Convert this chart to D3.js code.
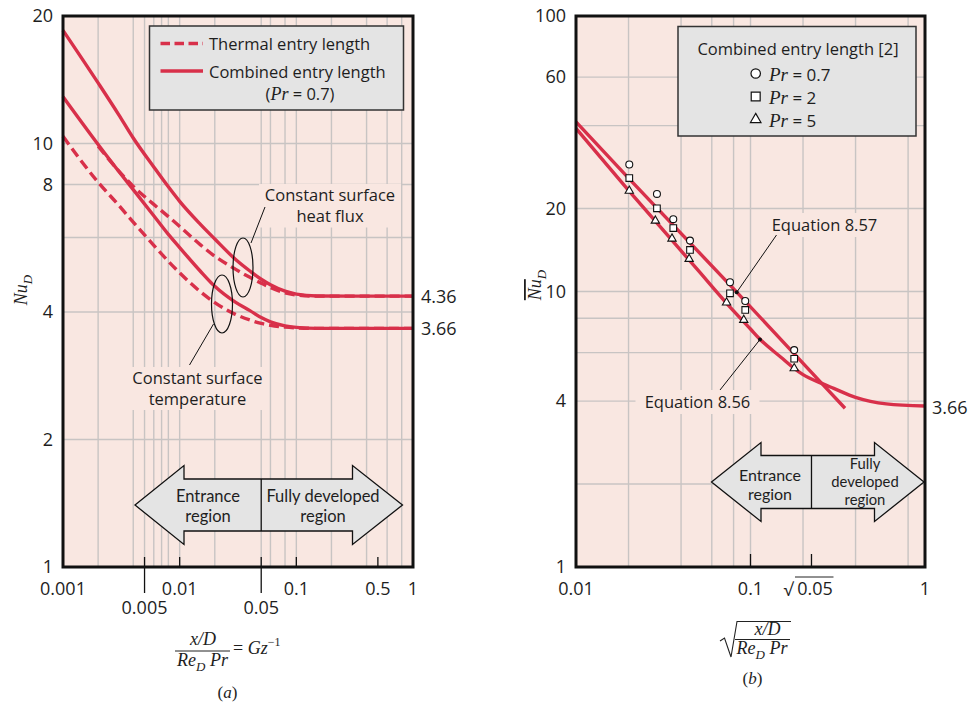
<!DOCTYPE html>
<html><head><meta charset="utf-8">
<script src="https://cdn.jsdelivr.net/npm/d3@7"></script>
<style>
body{margin:0;background:#fff;}
svg text{font-family:"Open Sans",Lato,sans-serif;fill:#1e1e1e;}
.it{font-family:"Liberation Serif","DejaVu Serif",serif;font-style:italic;}
.arr{font-family:Lato,"Open Sans",sans-serif !important;}
</style></head><body>
<svg id="c" width="980" height="702"></svg>
<script>
// ---------- DATA: panel (a) ----------
const gzInv = [0.001,0.002,0.003,0.004,0.006,0.008,0.01,0.015,0.02,0.03,0.04,0.05,0.06,0.08,0.1,0.15,0.3,1];
const nuCombinedFlux = [18.5,13.9,11.7,10.3,8.8,7.9,7.3,6.45,5.95,5.33,5.0,4.78,4.64,4.48,4.41,4.365,4.36,4.36];
const nuThermalFlux  = [null,9.85,8.62,7.92,7.18,6.72,6.37,5.77,5.42,5.05,4.83,4.68,4.57,4.44,4.39,4.36,4.36,4.36];
const nuCombinedTemp = [12.9,9.95,8.6,7.78,6.75,6.1,5.68,5.0,4.6,4.22,4.03,3.88,3.79,3.71,3.68,3.66,3.66,3.66];
const nuThermalTemp  = [10.4,8.1,7.15,6.52,5.75,5.27,4.95,4.47,4.21,3.95,3.83,3.76,3.72,3.685,3.67,3.66,3.66,3.66];
const leftGridX = [0.002,0.004,0.005,0.006,0.007,0.008,0.01,0.02,0.05,0.06,0.08,0.1,0.2,0.4,0.6,0.8];
const leftGridY = [2,4,6,8,10];
const leftTickY = [1,2,4,8,10,20];
const leftTickXTop = [0.001,0.01,0.1,0.5,1];
const leftTickXBottom = [0.005,0.05];
const leftInnerTicks = [0.005,0.01,0.05,0.1,0.5];
const leftAsymptotes = [4.36,3.66];

// ---------- DATA: panel (b) ----------
const sEq857 = [0.01,0.02,0.0834,0.256,0.348];
const nuEq857 = [41.3,25.8,9.95,4.64,3.77];
const sEq856 = [0.01,0.02,0.05,0.073,0.1,0.1133,0.15,0.178,0.2,0.256,0.3,0.4,0.6,1];
const nuEq856 = [39.1,23.3,11.95,9.06,7.31,6.71,5.76,5.26,4.99,4.64,4.45,4.13,3.91,3.84];
const sPr07 = [0.0202,0.0291,0.0361,0.045,0.0763,0.0933,0.178];
const nuPr07 = [28.9,22.6,18.3,15.3,10.8,9.24,6.13];
const sPr2 = [0.0202,0.0291,0.0361,0.045,0.0763,0.0933,0.178];
const nuPr2 = [25.8,20.05,17.0,14.15,9.85,8.57,5.70];
const sPr5 = [0.0202,0.0285,0.0355,0.0445,0.0729,0.0915,0.178];
const nuPr5 = [23.2,18.07,15.55,13.12,9.11,7.88,5.26];
const rightGridX = [0.02,0.04,0.06,0.08,0.1,0.2,0.4,0.8];
const rightGridY = [2,4,6,8,10,20,40,60];
const rightTickY = [1,4,10,20,60,100];
const rightTickX = [0.01,0.1,1];
const sqrtTick = Math.sqrt(0.05);
const rightLegend = [["circle","0.7"],["square","2"],["triangle","5"]];

// ---------- STYLE ----------
const RED = "#d8304a", BG = "#f9e7e1", GRID = "#c8c4c3", BOX = "#e4e4e4";
const svg = d3.select("#c");

const xL = d3.scaleLog().domain([0.001,1]).range([63,413]);
const yL = d3.scaleLog().domain([1,20]).range([567,16]);
const xR = d3.scaleLog().domain([0.01,1]).range([576,925]);
const yR = d3.scaleLog().domain([1,100]).range([567,16]);

function panel(g, x, y, gx, gy){
  const [x0,x1] = x.range(), [y1,y0] = y.range();
  g.append("rect").attr("x",x0).attr("y",y0).attr("width",x1-x0).attr("height",y1-y0).attr("fill",BG);
  g.selectAll(null).data(gx).join("line").attr("x1",d=>x(d)).attr("x2",d=>x(d))
    .attr("y1",y0).attr("y2",y1).attr("stroke",GRID).attr("stroke-width",1.4);
  g.selectAll(null).data(gy).join("line").attr("y1",d=>y(d)).attr("y2",d=>y(d))
    .attr("x1",x0).attr("x2",x1).attr("stroke",GRID).attr("stroke-width",1.4);
}
function frame(g, x, y){
  const [x0,x1] = x.range(), [y1,y0] = y.range();
  g.append("rect").attr("x",x0).attr("y",y0).attr("width",x1-x0).attr("height",y1-y0)
    .attr("fill","none").attr("stroke","#111").attr("stroke-width",3);
}
function multiText(g, lines, cx, y0, dy, size, cls){
  const t = g.append("text").attr("text-anchor","middle").style("font-size",size+"px");
  if (cls) t.attr("class",cls);
  lines.forEach((s,i)=>t.append("tspan").attr("x",cx).attr("y",y0+i*dy).attr("dy","0.35em").text(s));
  return t;
}
function bgLabel(g, lines, cx, ys, w, h, size){
  const top = ys[0]-h/2-2, bottom = ys[ys.length-1]+h/2+2;
  g.append("rect").attr("x",cx-w/2).attr("y",top).attr("width",w).attr("height",bottom-top).attr("fill",BG);
  multiText(g, lines, cx, ys[0], ys.length>1 ? ys[1]-ys[0] : 0, size);
}
function dblArrow(g, xl, xlb, xm, xrb, xr, yc, hs, hh){
  const pts = [[xl,yc],[xlb,yc-hh],[xlb,yc-hs],[xrb,yc-hs],[xrb,yc-hh],[xr,yc],[xrb,yc+hh],[xrb,yc+hs],[xlb,yc+hs],[xlb,yc+hh]];
  g.append("path").attr("d","M"+pts.map(p=>p.join(",")).join("L")+"Z")
    .attr("fill",BOX).attr("stroke","#111").attr("stroke-width",1.3);
  g.append("line").attr("x1",xm).attr("x2",xm).attr("y1",yc-hs).attr("y2",yc+hs).attr("stroke","#111").attr("stroke-width",1.3);
}

// ================= PANEL (a) =================
const gA = svg.append("g");
panel(gA, xL, yL, leftGridX, leftGridY);

bgLabel(gA, ["Constant surface","heat flux"], 330, [195,216.5], 142, 18, 16.5);
bgLabel(gA, ["Constant surface","temperature"], 197.5, [378,399], 140, 18, 16.5);

gA.append("rect").attr("x",149.5).attr("y",26).attr("width",254).attr("height",84)
  .attr("fill",BOX).attr("stroke","#333").attr("stroke-width",1.5);

const lineA = d3.line().defined(d=>d[1]!=null).x(d=>xL(d[0])).y(d=>yL(d[1])).curve(d3.curveMonotoneX);
const curvesA = [
  {v:nuCombinedFlux, dash:null},
  {v:nuCombinedTemp, dash:null},
  {v:nuThermalFlux, dash:"10,5"},
  {v:nuThermalTemp, dash:"10,5"}
];
curvesA.forEach(c=>{
  gA.append("path").datum(gzInv.map((g,i)=>[g,c.v[i]])).attr("d",lineA)
    .attr("fill","none").attr("stroke",RED).attr("stroke-width",3.4)
    .attr("stroke-dasharray",c.dash);
});

gA.append("ellipse").attr("cx",243).attr("cy",267.5).attr("rx",10).attr("ry",29.5).attr("fill","none").attr("stroke","#111").attr("stroke-width",1.2);
gA.append("line").attr("x1",251).attr("y1",243).attr("x2",265).attr("y2",207).attr("stroke","#111").attr("stroke-width",1);
gA.append("ellipse").attr("cx",222).attr("cy",304).attr("rx",10.5).attr("ry",29).attr("fill","none").attr("stroke","#111").attr("stroke-width",1.2);
gA.append("line").attr("x1",213.5).attr("y1",324).attr("x2",189.5).attr("y2",365).attr("stroke","#111").attr("stroke-width",1);

gA.append("line").attr("x1",160.5).attr("x2",203).attr("y1",43.5).attr("y2",43.5).attr("stroke",RED).attr("stroke-width",3.4).attr("stroke-dasharray","9.5,4.5");
gA.append("line").attr("x1",160.5).attr("x2",203).attr("y1",71).attr("y2",71).attr("stroke",RED).attr("stroke-width",3.4);
gA.append("text").attr("x",209).attr("y",49.5).style("font-size","16.5px").text("Thermal entry length");
gA.append("text").attr("x",209).attr("y",77.5).style("font-size","16.5px").text("Combined entry length");
{
  const t = gA.append("text").attr("x",300).attr("y",100).attr("text-anchor","middle").style("font-size","16.5px");
  t.append("tspan").text("(");
  t.append("tspan").attr("class","it").style("font-size","18px").text("Pr");
  t.append("tspan").text(" = 0.7)");
}

const gArrA = gA.append("g");
dblArrow(gArrA, 135, 184, xL(0.05), 352.5, 402.5, 505, 26, 39.5);
multiText(gArrA, ["Entrance","region"], 208, 496, 20, 16.5, "arr");
multiText(gArrA, ["Fully developed","region"], 323, 496, 20, 16.5, "arr");

frame(gA, xL, yL);

gA.selectAll(null).data(leftInnerTicks).join("line").attr("x1",d=>xL(d)).attr("x2",d=>xL(d))
  .attr("y1",557).attr("y2",567).attr("stroke","#111").attr("stroke-width",1.3);
gA.selectAll(null).data(leftTickXBottom).join("line").attr("x1",d=>xL(d)).attr("x2",d=>xL(d))
  .attr("y1",568).attr("y2",593).attr("stroke","#111").attr("stroke-width",1.3);

const axL = gA.append("g").attr("transform","translate(63,0)")
  .call(d3.axisLeft(yL).tickValues(leftTickY).tickSize(0).tickPadding(10).tickFormat(d3.format("d")));
axL.select(".domain").remove();
axL.selectAll("text").style("font-size","18px").attr("font-family",null).style("fill","#1e1e1e");

const fmt = d=>String(d);
gA.selectAll(null).data(leftTickXTop).join("text").attr("x",d=>xL(d)).attr("y",588)
  .attr("text-anchor","middle").attr("dominant-baseline","central").style("font-size","18px").text(fmt);
gA.selectAll(null).data(leftTickXBottom).join("text").attr("x",d=>xL(d)).attr("y",607)
  .attr("text-anchor","middle").attr("dominant-baseline","central").style("font-size","18px").text(fmt);

gA.selectAll(null).data(leftAsymptotes).join("text").attr("x",421).attr("y",d=>yL(d))
  .attr("dominant-baseline","central").style("font-size","18px").text(d=>d.toFixed(2));

{
  const t = gA.append("text").attr("transform","translate(27,290) rotate(-90)").attr("text-anchor","middle").attr("class","it").style("font-size","18px");
  t.append("tspan").text("Nu");
  t.append("tspan").attr("dy",5).style("font-size","13px").text("D");
}
{
  gA.append("text").attr("x",203).attr("y",645).attr("text-anchor","middle").attr("class","it").style("font-size","18px").text("x/D");
  gA.append("line").attr("x1",175).attr("x2",230).attr("y1",651).attr("y2",651).attr("stroke","#222").attr("stroke-width",1);
  const d = gA.append("text").attr("x",202.5).attr("y",666).attr("text-anchor","middle").attr("class","it").style("font-size","18px");
  d.append("tspan").text("Re");
  d.append("tspan").attr("dy",5).style("font-size","13px").text("D");
  d.append("tspan").attr("dy",-5).text(" Pr");
  const e = gA.append("text").attr("x",233).attr("y",654).style("font-size","18px");
  e.append("tspan").style("font-family","Liberation Serif").text("= ");
  e.append("tspan").attr("class","it").text("Gz");
  e.append("tspan").attr("dy",-8).style("font-size","12px").style("font-family","Liberation Serif").text("\u22121");
  const a = gA.append("text").attr("x",227.5).attr("y",698).attr("text-anchor","middle").style("font-size","17px").style("font-family","Liberation Serif");
  a.append("tspan").text("(");
  a.append("tspan").attr("class","it").text("a");
  a.append("tspan").text(")");
}

// ================= PANEL (b) =================
const gB = svg.append("g");
panel(gB, xR, yR, rightGridX, rightGridY);

bgLabel(gB, ["Equation 8.57"], 824.5, [225], 122, 20, 16.5);
bgLabel(gB, ["Equation 8.56"], 697.5, [402], 124, 20, 16.5);

gB.append("rect").attr("x",678).attr("y",26.5).attr("width",238).attr("height",109.5)
  .attr("fill",BOX).attr("stroke","#333").attr("stroke-width",1.5);
gB.append("text").attr("x",798).attr("y",48).attr("text-anchor","middle").attr("dominant-baseline","central").style("font-size","16.5px").text("Combined entry length [2]");

const sym = {circle:d3.symbolCircle, square:d3.symbolSquare, triangle:d3.symbolTriangle};
const symSize = {circle:38, square:44, triangle:30};
const legSize = {circle:70, square:80, triangle:48};
rightLegend.forEach(([s,v],i)=>{
  const yy = 73.5 + i*23;
  gB.append("path").attr("d",d3.symbol(sym[s],legSize[s])()).attr("transform",`translate(755.7,${yy})`)
    .attr("fill","#fff").attr("stroke","#111").attr("stroke-width",1.2);
  const t = gB.append("text").attr("x",769).attr("y",yy).attr("dominant-baseline","central").style("font-size","17px");
  t.append("tspan").attr("class","it").style("font-size","19px").text("Pr");
  t.append("tspan").text(" = "+v);
});

const lineB = d3.line().x(d=>xR(d[0])).y(d=>yR(d[1]));
gB.append("path").datum(sEq857.map((s,i)=>[s,nuEq857[i]])).attr("d",lineB.curve(d3.curveLinear))
  .attr("fill","none").attr("stroke",RED).attr("stroke-width",3.4);
gB.append("path").datum(sEq856.map((s,i)=>[s,nuEq856[i]])).attr("d",lineB.curve(d3.curveMonotoneX))
  .attr("fill","none").attr("stroke",RED).attr("stroke-width",3.4);

[[sPr07,nuPr07,"circle"],[sPr2,nuPr2,"square"],[sPr5,nuPr5,"triangle"]].forEach(([sx,ny,s])=>{
  gB.selectAll(null).data(sx.map((v,i)=>[v,ny[i]])).join("path")
    .attr("d",d3.symbol(sym[s],symSize[s])())
    .attr("transform",d=>`translate(${xR(d[0])},${yR(d[1])})`)
    .attr("fill","#fff").attr("stroke","#111").attr("stroke-width",1.1);
});

gB.append("circle").attr("cx",736.7).attr("cy",292.3).attr("r",2).attr("fill","#111");
gB.append("line").attr("x1",736.7).attr("y1",292.3).attr("x2",776.5).attr("y2",235).attr("stroke","#111").attr("stroke-width",1);
gB.append("circle").attr("cx",760).attr("cy",339.5).attr("r",2).attr("fill","#111");
gB.append("line").attr("x1",760).attr("y1",339.5).attr("x2",720).attr("y2",390).attr("stroke","#111").attr("stroke-width",1);

const gArrB = gB.append("g");
dblArrow(gArrB, 711.5, 761, xR(sqrtTick), 874.5, 924, 482, 26.5, 39.5);
multiText(gArrB, ["Entrance","region"], 770, 475, 19.5, 16, "arr");
multiText(gArrB, ["Fully","developed","region"], 865, 464, 18, 14.8, "arr");

frame(gB, xR, yR);

gB.selectAll(null).data([0.1,sqrtTick]).join("line").attr("x1",d=>xR(d)).attr("x2",d=>xR(d))
  .attr("y1",554).attr("y2",567).attr("stroke","#111").attr("stroke-width",1.3);

const axR = gB.append("g").attr("transform","translate(576,0)")
  .call(d3.axisLeft(yR).tickValues(rightTickY).tickSize(0).tickPadding(10).tickFormat(d3.format("d")));
axR.select(".domain").remove();
axR.selectAll("text").style("font-size","18px").attr("font-family",null).style("fill","#1e1e1e");

gB.selectAll(null).data(rightTickX).join("text").attr("x",d=>xR(d)).attr("y",588)
  .attr("text-anchor","middle").attr("dominant-baseline","central").style("font-size","18px").text(fmt);
{
  const cx = xR(sqrtTick);
  gB.append("text").attr("x",cx-28).attr("y",589).attr("dominant-baseline","central").style("font-size","18px").text("\u221A");
  gB.append("text").attr("x",cx+3.5).attr("y",588).attr("text-anchor","middle").attr("dominant-baseline","central").style("font-size","18px").text("0.05");
  gB.append("line").attr("x1",cx-16.5).attr("x2",cx+22).attr("y1",577).attr("y2",577).attr("stroke","#222").attr("stroke-width",1);
}
gB.append("text").attr("x",932).attr("y",yR(nuEq856[nuEq856.length-1])+0.5).attr("dominant-baseline","central").style("font-size","18px").text("3.66");

{
  const t = gB.append("text").attr("transform","translate(541,285) rotate(-90)").attr("text-anchor","middle").attr("class","it").style("font-size","18px");
  t.append("tspan").style("text-decoration","overline").text("Nu");
  t.append("tspan").attr("dy",5).style("font-size","13px").text("D");
}
{
  gB.append("path").attr("d","M720,641 L724.5,638 L731,657 L737,621.5 L791,621.5").attr("fill","none").attr("stroke","#222").attr("stroke-width",1.1);
  gB.append("text").attr("x",767.5).attr("y",635).attr("text-anchor","middle").attr("class","it").style("font-size","18px").text("x/D");
  gB.append("line").attr("x1",735).attr("x2",790).attr("y1",639.5).attr("y2",639.5).attr("stroke","#222").attr("stroke-width",1);
  const d = gB.append("text").attr("x",762).attr("y",654).attr("text-anchor","middle").attr("class","it").style("font-size","18px");
  d.append("tspan").text("Re");
  d.append("tspan").attr("dy",5).style("font-size","13px").text("D");
  d.append("tspan").attr("dy",-5).text(" Pr");
  const b = gB.append("text").attr("x",752.5).attr("y",684).attr("text-anchor","middle").style("font-size","17px").style("font-family","Liberation Serif");
  b.append("tspan").text("(");
  b.append("tspan").attr("class","it").text("b");
  b.append("tspan").text(")");
}
</script>
</body></html>
